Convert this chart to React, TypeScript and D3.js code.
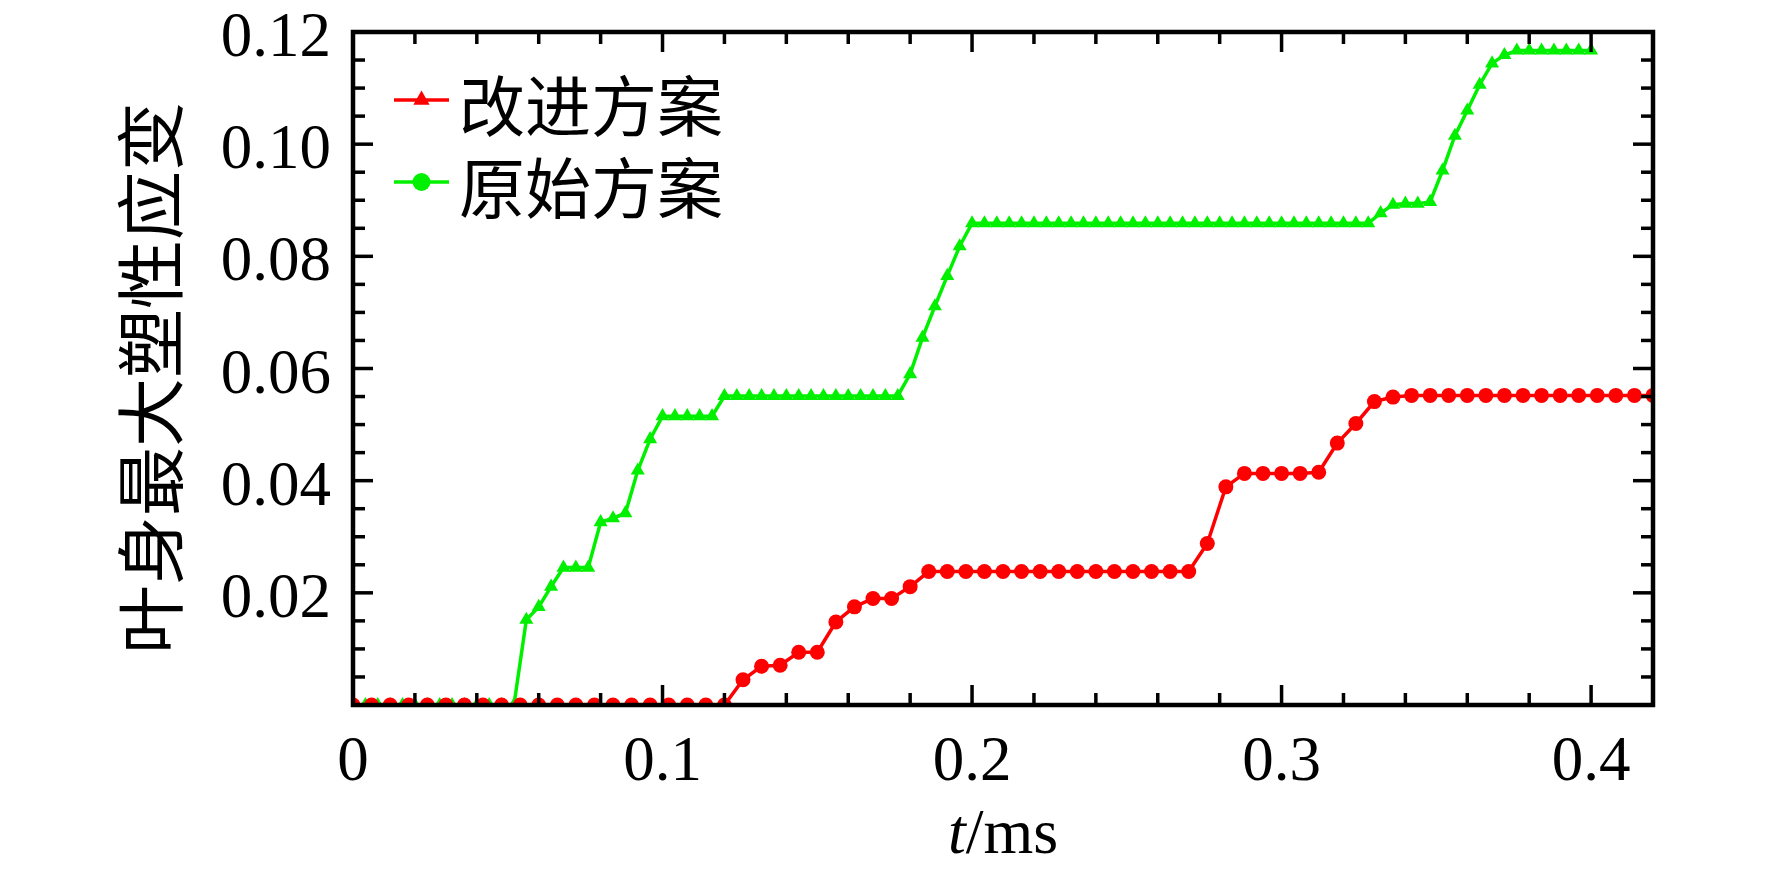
import React from "react";
import * as d3 from "d3";

// ---------- data ----------
const greenTime = [
  0, 0.004, 0.008, 0.012, 0.016, 0.02, 0.024, 0.028, 0.032, 0.036,
  0.04, 0.044, 0.048, 0.052, 0.056, 0.06, 0.064, 0.068, 0.072, 0.076,
  0.08, 0.084, 0.088, 0.092, 0.096, 0.1, 0.104, 0.108, 0.112, 0.116,
  0.12, 0.124, 0.128, 0.132, 0.136, 0.14, 0.144, 0.148, 0.152, 0.156,
  0.16, 0.164, 0.168, 0.172, 0.176, 0.18, 0.184, 0.188, 0.192, 0.196,
  0.2, 0.204, 0.208, 0.212, 0.216, 0.22, 0.224, 0.228, 0.232, 0.236,
  0.24, 0.244, 0.248, 0.252, 0.256, 0.26, 0.264, 0.268, 0.272, 0.276,
  0.28, 0.284, 0.288, 0.292, 0.296, 0.3, 0.304, 0.308, 0.312, 0.316,
  0.32, 0.324, 0.328, 0.332, 0.336, 0.34, 0.344, 0.348, 0.352, 0.356,
  0.36, 0.364, 0.368, 0.372, 0.376, 0.38, 0.384, 0.388, 0.392, 0.396,
  0.4,
];
const greenValues = [
  0, 0, 0, 0, 0, 0, 0, 0, 0, 0,
  0, 0, 0, 0, 0.0152, 0.0175, 0.0211, 0.0245, 0.0245, 0.0245,
  0.0326, 0.0333, 0.0342, 0.0418, 0.0474, 0.0515, 0.0515, 0.0515, 0.0515, 0.0515,
  0.0551, 0.0551, 0.0551, 0.0551, 0.0551, 0.0551, 0.0551, 0.0551, 0.0551, 0.0551,
  0.0551, 0.0551, 0.0551, 0.0551, 0.0551, 0.059, 0.0655, 0.0711, 0.0765, 0.0818,
  0.0859, 0.0859, 0.0859, 0.0859, 0.0859, 0.0859, 0.0859, 0.0859, 0.0859, 0.0859,
  0.0859, 0.0859, 0.0859, 0.0859, 0.0859, 0.0859, 0.0859, 0.0859, 0.0859, 0.0859,
  0.0859, 0.0859, 0.0859, 0.0859, 0.0859, 0.0859, 0.0859, 0.0859, 0.0859, 0.0859,
  0.0859, 0.0859, 0.0859, 0.0877, 0.0892, 0.0894, 0.0894, 0.0897, 0.0953, 0.1015,
  0.106, 0.1106, 0.1144, 0.1159, 0.1167, 0.1167, 0.1167, 0.1167, 0.1167, 0.1167,
  0.1167,
];
const redTime = [
  0, 0.006, 0.012, 0.018, 0.024, 0.03, 0.036, 0.042, 0.048, 0.054,
  0.06, 0.066, 0.072, 0.078, 0.084, 0.09, 0.096, 0.102, 0.108, 0.114,
  0.12, 0.126, 0.132, 0.138, 0.144, 0.15, 0.156, 0.162, 0.168, 0.174,
  0.18, 0.186, 0.192, 0.198, 0.204, 0.21, 0.216, 0.222, 0.228, 0.234,
  0.24, 0.246, 0.252, 0.258, 0.264, 0.27, 0.276, 0.282, 0.288, 0.294,
  0.3, 0.306, 0.312, 0.318, 0.324, 0.33, 0.336, 0.342, 0.348, 0.354,
  0.36, 0.366, 0.372, 0.378, 0.384, 0.39, 0.396, 0.402, 0.408, 0.414,
  0.42,
];
const redValues = [
  0, 0, 0, 0, 0, 0, 0, 0, 0, 0,
  0, 0, 0, 0, 0, 0, 0, 0, 0, 0,
  0, 0.0045, 0.0069, 0.0071, 0.0094, 0.0094, 0.0148, 0.0175, 0.019, 0.019,
  0.0211, 0.0238, 0.0238, 0.0238, 0.0238, 0.0238, 0.0238, 0.0238, 0.0238, 0.0238,
  0.0238, 0.0238, 0.0238, 0.0238, 0.0238, 0.0238, 0.0288, 0.0389, 0.0413, 0.0413,
  0.0413, 0.0413, 0.0415, 0.0467, 0.0502, 0.0541, 0.0549, 0.0552, 0.0552, 0.0552,
  0.0552, 0.0552, 0.0552, 0.0552, 0.0552, 0.0552, 0.0552, 0.0552, 0.0552, 0.0552,
  0.0552,
];
const legendLabels = ["改进方案", "原始方案"];
const xTickValues = [0, 0.1, 0.2, 0.3, 0.4];
const xTickLabels = ["0", "0.1", "0.2", "0.3", "0.4"];
const yTickValues = [0.02, 0.04, 0.06, 0.08, 0.1, 0.12];
const yTickLabels = ["0.02", "0.04", "0.06", "0.08", "0.10", "0.12"];
const yAxisTitle = "叶身最大塑性应变";

// ---------- layout ----------
const W = 1772;
const H = 875;
const L = 353;
const R = 1653;
const T = 32;
const B = 705;
const RED = "#ff0000";
const GREEN = "#00f000";
const SERIF = "'Liberation Serif', 'Times New Roman', serif";
const CJK = "'Noto Sans CJK SC', 'Noto Sans CJK JP', sans-serif";

export default function App() {
  const x = d3.scaleLinear().domain([0, 0.42]).range([L, R]);
  const y = d3.scaleLinear().domain([0, 0.12]).range([B, T]);

  const green = greenTime.map((t, i) => [t, greenValues[i]] as [number, number]);
  const red = redTime.map((t, i) => [t, redValues[i]] as [number, number]);
  const line = d3
    .line<[number, number]>()
    .x((d) => x(d[0]))
    .y((d) => y(d[1]));
  const tri = d3.symbol().type(d3.symbolTriangle).size(85)() as string;
  const triLegend = d3.symbol().type(d3.symbolTriangle).size(115)() as string;

  const xMinor = d3.range(1, 21).map((k) => k * 0.02).filter((v) => Math.abs(v * 10 - Math.round(v * 10)) > 1e-6);
  const yMinor = d3.range(1, 24).map((k) => k * 0.005).filter((v) => Math.abs(v * 50 - Math.round(v * 50)) > 1e-6);

  const MAJ = 20;
  const MIN = 12;
  const tickW = 3.5;

  return (
    <svg
      width={W}
      height={H}
      viewBox={`0 0 ${W} ${H}`}
      style={{ position: "fixed", left: 0, top: 0, background: "#fff" }}
    >
      <rect x={0} y={0} width={W} height={H} fill="#fff" />
      <defs>
        <clipPath id="plotClip">
          <rect x={L} y={T} width={R - L} height={B - T} />
        </clipPath>
      </defs>

      {/* data */}
      <g clipPath="url(#plotClip)">
        <path d={line(green) || ""} fill="none" stroke={GREEN} strokeWidth={3.5} />
        {green.map((d, i) => (
          <path key={"g" + i} d={tri} transform={`translate(${x(d[0])},${y(d[1])})`} fill={GREEN} />
        ))}
        <path d={line(red) || ""} fill="none" stroke={RED} strokeWidth={3.5} />
        {red.map((d, i) => (
          <circle key={"r" + i} cx={x(d[0])} cy={y(d[1])} r={7.5} fill={RED} />
        ))}
      </g>

      {/* ticks */}
      <g stroke="#000" strokeWidth={tickW}>
        {xTickValues.map((v, i) => (
          <g key={"xM" + i}>
            <line x1={x(v)} x2={x(v)} y1={B} y2={B - MAJ} />
            <line x1={x(v)} x2={x(v)} y1={T} y2={T + MAJ} />
          </g>
        ))}
        {xMinor.map((v, i) => (
          <g key={"xm" + i}>
            <line x1={x(v)} x2={x(v)} y1={B} y2={B - MIN} />
            <line x1={x(v)} x2={x(v)} y1={T} y2={T + MIN} />
          </g>
        ))}
        {yTickValues.map((v, i) => (
          <g key={"yM" + i}>
            <line x1={L} x2={L + MAJ} y1={y(v)} y2={y(v)} />
            <line x1={R} x2={R - MAJ} y1={y(v)} y2={y(v)} />
          </g>
        ))}
        {yMinor.map((v, i) => (
          <g key={"ym" + i}>
            <line x1={L} x2={L + MIN} y1={y(v)} y2={y(v)} />
            <line x1={R} x2={R - MIN} y1={y(v)} y2={y(v)} />
          </g>
        ))}
      </g>

      {/* frame */}
      <rect x={L} y={T} width={R - L} height={B - T} fill="none" stroke="#000" strokeWidth={4.5} />

      {/* tick labels */}
      <g fontFamily={SERIF} fontSize={63} fill="#000">
        {xTickValues.map((v, i) => (
          <text key={"xl" + i} x={x(v)} y={780} textAnchor="middle">
            {xTickLabels[i]}
          </text>
        ))}
        {yTickValues.map((v, i) => (
          <text key={"yl" + i} x={331} y={y(v) + 24} textAnchor="end">
            {yTickLabels[i]}
          </text>
        ))}
      </g>

      {/* axis titles */}
      <text x={(L + R) / 2} y={853} textAnchor="middle" fontFamily={SERIF} fontSize={64} fill="#000">
        <tspan fontStyle="italic">t</tspan>/ms
      </text>
      <text
        transform={`translate(147,378) rotate(-90)`}
        textAnchor="middle"
        dominantBaseline="central"
        fontFamily={CJK}
        fontSize={69}
        fill="#000"
      >
        {yAxisTitle}
      </text>

      {/* legend */}
      <g>
        <line x1={394} x2={449} y1={100} y2={100} stroke={RED} strokeWidth={3.5} />
        <path d={triLegend} transform="translate(421.5,100)" fill={RED} />
        <text x={459} y={102} dominantBaseline="central" fontFamily={CJK} fontSize={66} fill="#000">
          {legendLabels[0]}
        </text>
        <line x1={394} x2={449} y1={182} y2={182} stroke={GREEN} strokeWidth={3.5} />
        <circle cx={421.5} cy={182} r={9} fill={GREEN} />
        <text x={459} y={184} dominantBaseline="central" fontFamily={CJK} fontSize={66} fill="#000">
          {legendLabels[1]}
        </text>
      </g>
    </svg>
  );
}
